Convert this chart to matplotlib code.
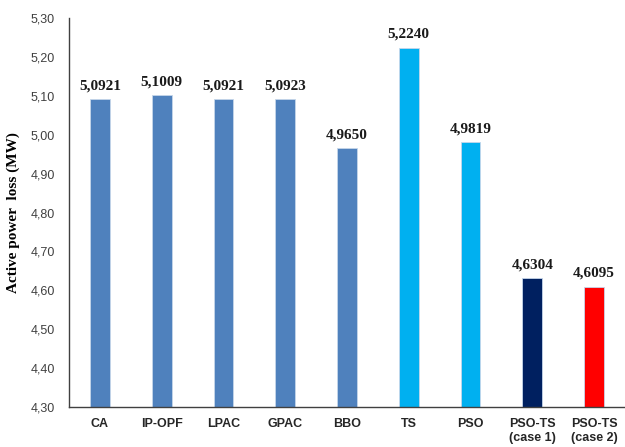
import matplotlib.pyplot as plt
import numpy as np

# Data
methods = ['CA', 'IP-OPF', 'LPAC', 'GPAC', 'BBO', 'TS', 'PSO', 'PSO-TS\n(case 1)', 'PSO-TS\n(case 2)']
losses = [5.0921, 5.1009, 5.0921, 5.0923, 4.9650, 5.2240, 4.9819, 4.6304, 4.6095]
bar_colors = ['#4F81BD'] * 5 + ['#00B0F0', '#00B0F0', '#002060', '#FF0000']
yticks = [4.30, 4.40, 4.50, 4.60, 4.70, 4.80, 4.90, 5.00, 5.10, 5.20, 5.30]

fig = plt.figure(figsize=(6.25, 4.47), dpi=100)
ax = fig.add_axes([0.1104, 0.0895, 0.8896, 0.8702])

x = np.arange(len(methods))
bars = ax.bar(x, losses, width=0.32, color=bar_colors, edgecolor='#C6D6EA',
              linewidth=0.6, bottom=0)

ax.set_ylim(4.30, 5.30)
ax.set_xlim(-0.5, len(methods) - 0.5)
ax.set_yticks(yticks)
ax.set_yticklabels([f'{v:.2f}'.replace('.', ',') for v in yticks],
                   fontsize=9, color='#404040', family='Liberation Sans')
ax.set_xticks(x)
ax.set_xticklabels(methods, fontsize=9, fontweight='bold', color='#262626',
                   family='Liberation Sans')
ax.tick_params(axis='both', length=0, pad=8)
ax.tick_params(axis='y', pad=10)

for sp in ['top', 'right']:
    ax.spines[sp].set_visible(False)
ax.spines['left'].set_color('#404040')
ax.spines['bottom'].set_color('#404040')
ax.spines['left'].set_linewidth(1.0)
ax.spines['bottom'].set_linewidth(1.0)

for xi, v in zip(x, losses):
    ax.text(xi, v + 0.017, f'{v:.4f}'.replace('.', ','), ha='center', va='bottom',
            fontsize=11, fontweight='bold', family='Liberation Serif', color='#1a1a1a')

ax.set_ylabel('Active power  loss (MW)', fontsize=11, fontweight='bold',
              family='Liberation Serif', labelpad=8)

plt.savefig('out.png', dpi=100, facecolor='white')
